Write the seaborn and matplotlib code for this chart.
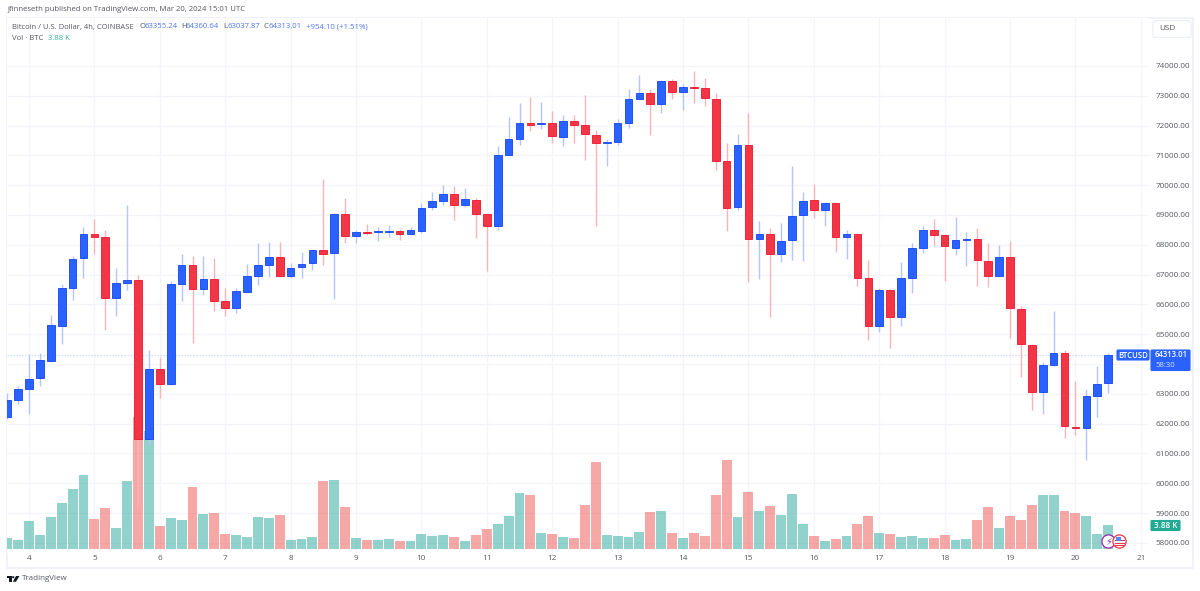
import numpy as np
import pandas as pd
import matplotlib
matplotlib.use("Agg")
import matplotlib.pyplot as plt
from matplotlib.patches import Rectangle, FancyBboxPatch, Circle, Polygon
from matplotlib.transforms import Affine2D
import seaborn as sns

# BTC/USD 4h candles, Coinbase, prices in USD; volume in thousands of BTC
opens = [62207, 62790, 63158, 63516, 64097, 65270, 66545, 67552, 68357, 68245, 66210, 66713,
         66803, 61470, 63817, 63314, 66691, 67306, 66512, 66847, 66121, 65875, 66422, 66948,
         67328, 67585, 66937, 67239, 67373, 67820, 67719, 69050, 68290, 68435, 68440, 68445,
         68457, 68368, 68468, 69273, 69475, 69698, 69340, 69508, 69027, 68614, 71017, 71554,
         72079, 72046, 72102, 71621, 72147, 72024, 71699, 71431, 71465, 72079, 72907, 73086,
         72739, 73499, 73130, 73298, 73253, 72907, 70805, 69284, 71353, 68200, 68357, 67697,
         68155, 68994, 69508, 69184, 69396, 68245, 68368, 66870, 65271, 66489, 65561, 66881,
         67898, 68491, 68334, 67909, 68166, 68189, 67451, 66959, 67585, 65841, 64634, 63046,
         63952, 64365, 61883, 61850, 62935, 63355.24]
highs = [63035, 63270, 64320, 64355, 65630, 66700, 67619, 68603, 68871, 68513, 67227, 69329,
         66993, 64455, 64242, 66780, 67675, 67619, 67619, 67563, 66545, 66534, 67339, 68044,
         68110, 68110, 67373, 67742, 67830, 70201, 69060, 69564, 68480, 68703, 68591, 68681,
         68524, 68591, 69396, 69776, 70000, 69966, 69899, 69575, 69030, 71319, 72303, 72773,
         72952, 72795, 72504, 72370, 72348, 73030, 71845, 71543, 72236, 73220, 73712, 73220,
         73530, 73555, 73399, 73846, 73600, 73086, 71409, 71722, 72415, 68815, 68558, 68725,
         70648, 69765, 70045, 69452, 69396, 68480, 68390, 67496, 66545, 66510, 67429, 68055,
         68614, 68871, 68368, 68927, 68435, 68558, 68055, 67988, 68122, 65953, 64656, 64063,
         65763, 64477, 63415, 63169, 63918, 64360.64]
lows = [62150, 62645, 62308, 63258, 64063, 64656, 66143, 66881, 67675, 65148, 65595, 66478,
        59234, 61280, 62845, 63300, 66098, 64712, 66311, 65785, 65606, 65696, 66410, 66635,
        66925, 66937, 66881, 66870, 67160, 67306, 66176, 68055, 68055, 68312, 68133, 68278,
        68167, 68345, 68390, 69173, 69352, 68826, 69262, 68234, 67104, 68502, 71010, 71353,
        71811, 71900, 71431, 71319, 71431, 70861, 68614, 70648, 71353, 71934, 72884, 71699,
        72437, 72884, 72527, 72750, 72660, 70514, 68468, 69173, 66735, 66847, 65573, 67406,
        67495, 67440, 68904, 68614, 67742, 67529, 66624, 64790, 65058, 64522, 65260, 66367,
        67719, 67943, 66769, 67663, 67294, 66612, 66568, 66937, 64868, 63560, 62442, 62331,
        63918, 61514, 61626, 60765, 62210, 63037.87]
closes = [62778, 63147, 63505, 64120, 65293, 66534, 67540, 68357, 68256, 66210, 66713, 66803,
          61492, 63817, 63314, 66691, 67328, 66512, 66847, 66121, 65875, 66434, 66959, 67328,
          67585, 66937, 67205, 67362, 67820, 67686, 69050, 68290, 68424, 68400, 68457, 68457,
          68368, 68480, 69240, 69475, 69698, 69352, 69530, 69027, 68614, 71017, 71543, 72079,
          72035, 72102, 71643, 72147, 72035, 71710, 71431, 71465, 72079, 72884, 73086, 72739,
          73510, 73142, 73309, 73265, 72918, 70816, 69251, 71353, 68200, 68368, 67697, 68144,
          68983, 69486, 69184, 69396, 68278, 68368, 66892, 65271, 66489, 65561, 66870, 67887,
          68491, 68334, 67943, 68166, 68189, 67473, 66937, 67585, 65875, 64656, 63046, 63952,
          64365, 61906, 61838, 62923, 63337, 64313.01]
volumes_k = [1.76, 1.49, 4.57, 2.23, 5.10, 7.34, 9.57, 11.9, 4.79, 6.54, 3.46, 10.96,
             21.06, 18.83, 3.78, 5.00, 4.68, 9.95, 5.64, 5.74, 2.39, 2.29, 1.97, 5.10,
             5.00, 5.43, 1.49, 1.70, 2.02, 10.96, 11.06, 6.70, 1.81, 1.49, 1.49, 1.70,
             1.38, 1.38, 2.50, 2.13, 2.29, 2.02, 1.28, 2.23, 3.19, 3.99, 5.32, 8.94,
             8.62, 2.61, 2.45, 1.91, 1.81, 7.13, 13.94, 2.29, 2.18, 1.97, 2.71, 5.96,
             6.06, 2.61, 1.76, 2.61, 2.07, 8.72, 14.2, 5.11, 9.20, 6.06, 6.91, 5.43,
             8.78, 3.99, 2.07, 1.28, 1.65, 2.07, 4.10, 5.32, 2.61, 2.50, 1.91, 2.18,
             1.81, 1.81, 2.29, 1.49, 1.60, 4.73, 6.70, 3.46, 5.27, 4.63, 7.13, 8.67,
             8.67, 6.06, 5.85, 5.32, 2.50, 3.88]
price_ticks = list(range(58000, 75000, 1000))
hidden_price_labels = {64000, 75000}  # 64000 sits under the last-price tag
day_labels = list(range(4, 22))

W, H = 1200, 591
UP, DOWN = "#2962ff", "#f23645"
UP_EDGE, DOWN_EDGE = "#1443f2", "#f0122c"
UP_WICK, DOWN_WICK = "#b4c6ff", "#f9b4ba"
VOL_UP, VOL_DOWN = "#26a69a", "#ef5350"
GRID = "#f3f5fa"
TEXT = "#55585f"
LEGEND_BLUE = "#4f78f5"
LEGEND_TEAL = "#3aaea2"
SMALL = 5.85

sns.set_theme(style="white")
plt.rcParams["font.family"] = ["Open Sans", "DejaVu Sans"]

n = len(closes)
frame = pd.DataFrame({
    "bar": np.arange(-2, n - 2),
    "open": opens, "high": highs, "low": lows, "close": closes, "volume": volumes_k,
})
frame["direction"] = np.where(frame["close"] >= frame["open"], "up", "down")

fig = plt.figure(figsize=(W / 100, H / 100), dpi=100, facecolor="white")
px = Affine2D().scale(1 / W, -1 / H).translate(0, 1) + fig.transFigure

pane = (7, 17.5, 1149, 553)  # left, top, right, bottom in pixels
rect = [pane[0] / W, 1 - pane[3] / H, (pane[2] - pane[0]) / W, (pane[3] - pane[1]) / H]
xlim = (-2.018, 102.75)
ylim = (57658, 75627)

# Grid layer, then volume, then candles, so the bars stay translucent over the grid
ax_grid = fig.add_axes(rect, zorder=1)
ax_vol = fig.add_axes(rect, zorder=2, facecolor="none")
ax = fig.add_axes(rect, zorder=3, facecolor="none")

ax_grid.set_xlim(xlim)
ax_grid.set_ylim(ylim)
ax_grid.set_xticks([(d - 4) * 6 for d in day_labels])
ax_grid.set_xticklabels([str(d) for d in day_labels], fontsize=SMALL, color=TEXT)
ax_grid.yaxis.tick_right()
ax_grid.set_yticks(price_ticks)
ax_grid.set_yticklabels([f"{p}.00" if p not in hidden_price_labels else "" for p in price_ticks],
                        fontsize=SMALL, color=TEXT)
ax_grid.tick_params(axis="x", length=0, pad=1.5)
ax_grid.tick_params(axis="y", length=0, pad=4.6)
ax_grid.grid(True, color=GRID, linewidth=0.9)
ax_grid.set_axisbelow(True)
sns.despine(ax=ax_grid, left=True, bottom=True, right=True, top=True)

# Volume pane overlaid on the lower part of the price pane
sns.barplot(
    data=frame, x="bar", y="volume", hue="direction",
    palette={"up": VOL_UP, "down": VOL_DOWN}, hue_order=["up", "down"],
    native_scale=True, dodge=False, width=0.91, saturation=1, alpha=0.5,
    linewidth=0, errorbar=None, legend=False, ax=ax_vol,
)
ax_vol.set_xlim(xlim)
ax_vol.set_ylim(-0.59, 84.8)
ax_vol.set_axis_off()

# Candles
ax.set_xlim(xlim)
ax.set_ylim(ylim)
ax.set_axis_off()
is_up = frame["direction"] == "up"
ax.vlines(frame["bar"], frame["low"], frame["high"],
          colors=np.where(is_up, UP_WICK, DOWN_WICK), linewidth=1.0, zorder=2)
ax.bar(frame["bar"], frame["close"] - frame["open"], bottom=frame["open"], width=0.70,
       color=np.where(is_up, UP, DOWN), edgecolor=np.where(is_up, UP_EDGE, DOWN_EDGE),
       linewidth=0.6, zorder=3)

# Dotted last-price line
last_close = closes[-1]
ax.axhline(last_close, color="#c9d3fb", linewidth=0.9, linestyle=(0, (1, 1.4)), zorder=1,
           xmax=(1116 - 7) / (1149 - 7))

# Chart frame
fig.add_artist(Rectangle((6.5, 17.5), 1186.5, 550.5, transform=px, fill=False,
                         edgecolor="#eef0f6", linewidth=1.2))


def label(x, y, s, color=TEXT, size=SMALL, ha="left", **kw):
    return fig.text(x, y, s, transform=px, color=color, fontsize=size, ha=ha, va="center",
                    zorder=10, **kw)


def pill(x0, y0, x1, y1, face, edge=None, pad=1.0, lw=0.8):
    fig.add_artist(FancyBboxPatch((x0, y0), x1 - x0, y1 - y0, transform=px,
                                  boxstyle=f"round,pad=0,rounding_size={pad}",
                                  facecolor=face, edgecolor=edge or face, linewidth=lw, zorder=9))


# Header and legend text
label(7, 9.5, "jfinneseth published on TradingView.com, Mar 20, 2024 15:01 UTC", size=5.6)
label(12, 27, "Bitcoin / U.S. Dollar, 4h, COINBASE", size=5.5)
for x_key, key, x_val, val in [(139.5, "O", 144.5, opens[-1]), (181, "H", 186, highs[-1]),
                               (223, "L", 227.5, lows[-1]), (263, "C", 268.5, closes[-1])]:
    label(x_key, 27, key, size=5.6)
    label(x_val, 27, f"{val:.2f}", color=LEGEND_BLUE, size=5.6)
label(306, 27, "+954.10 (+1.51%)", color=LEGEND_BLUE, size=5.6)
label(12, 38, "Vol \u00b7 BTC", size=5.6)
label(48.5, 38, f"{volumes_k[-1]:.2f} K", color=LEGEND_TEAL, size=5.6)

# Currency selector and last-value tags
pill(1153, 20.5, 1191, 37.5, "white", edge="#eceef5", pad=3)
label(1159, 29, "USD")
pill(1117, 350, 1149, 360, UP, pad=1)
label(1133, 355, "BTCUSD", color="white", size=5.6, ha="center", fontweight="semibold")
pill(1151, 350, 1190, 370.5, UP, pad=1)
label(1155, 354.5, f"{last_close:.2f}", color="white", size=5.6, fontweight="semibold")
label(1155, 365.5, "58:30", color="#d8e2ff", size=5.6)
pill(1151, 520.5, 1180, 530.5, "#22ab94", pad=1)
label(1165.5, 525.5, f"{volumes_k[-1]:.2f} K", color="white", ha="center", fontweight="semibold")

# Event badges on the time axis
fig.add_artist(Circle((1108.5, 541.5), 6.6, transform=px, facecolor="white", edgecolor="#9c27b0", linewidth=0.9, zorder=9))
label(1108.5, 541.5, "\u26a1", color="#9c27b0", size=7, ha="center", family=["DejaVu Sans"])
fig.add_artist(Circle((1119.5, 541.5), 6.6, transform=px, facecolor="white", edgecolor="#f23645", linewidth=0.9, zorder=9))
for y_stripe in (539.5, 542.5, 545):
    fig.add_artist(Rectangle((1114.5, y_stripe), 10, 1.4, transform=px, facecolor="#f23645", edgecolor="none", zorder=10))
fig.add_artist(Rectangle((1115.5, 536.5), 5.5, 4, transform=px, facecolor="#5b83f5", edgecolor="none", zorder=11))

# TradingView mark and wordmark in the footer
fig.add_artist(Polygon([(6.8, 576), (11.8, 576), (11.8, 581.7), (9.2, 581.7), (9.2, 578.2), (6.8, 578.2)],
                       transform=px, facecolor="#131722", edgecolor="none"))
fig.add_artist(Circle((13.2, 577.2), 1.1, transform=px, facecolor="#131722", edgecolor="none"))
fig.add_artist(Polygon([(16, 576), (19.4, 576), (16, 581.7), (12.8, 581.7)],
                       transform=px, facecolor="#131722", edgecolor="none"))
label(21.7, 579, "TradingView", color="#55585f", size=5.8)

fig.savefig("out.png", dpi=100)
